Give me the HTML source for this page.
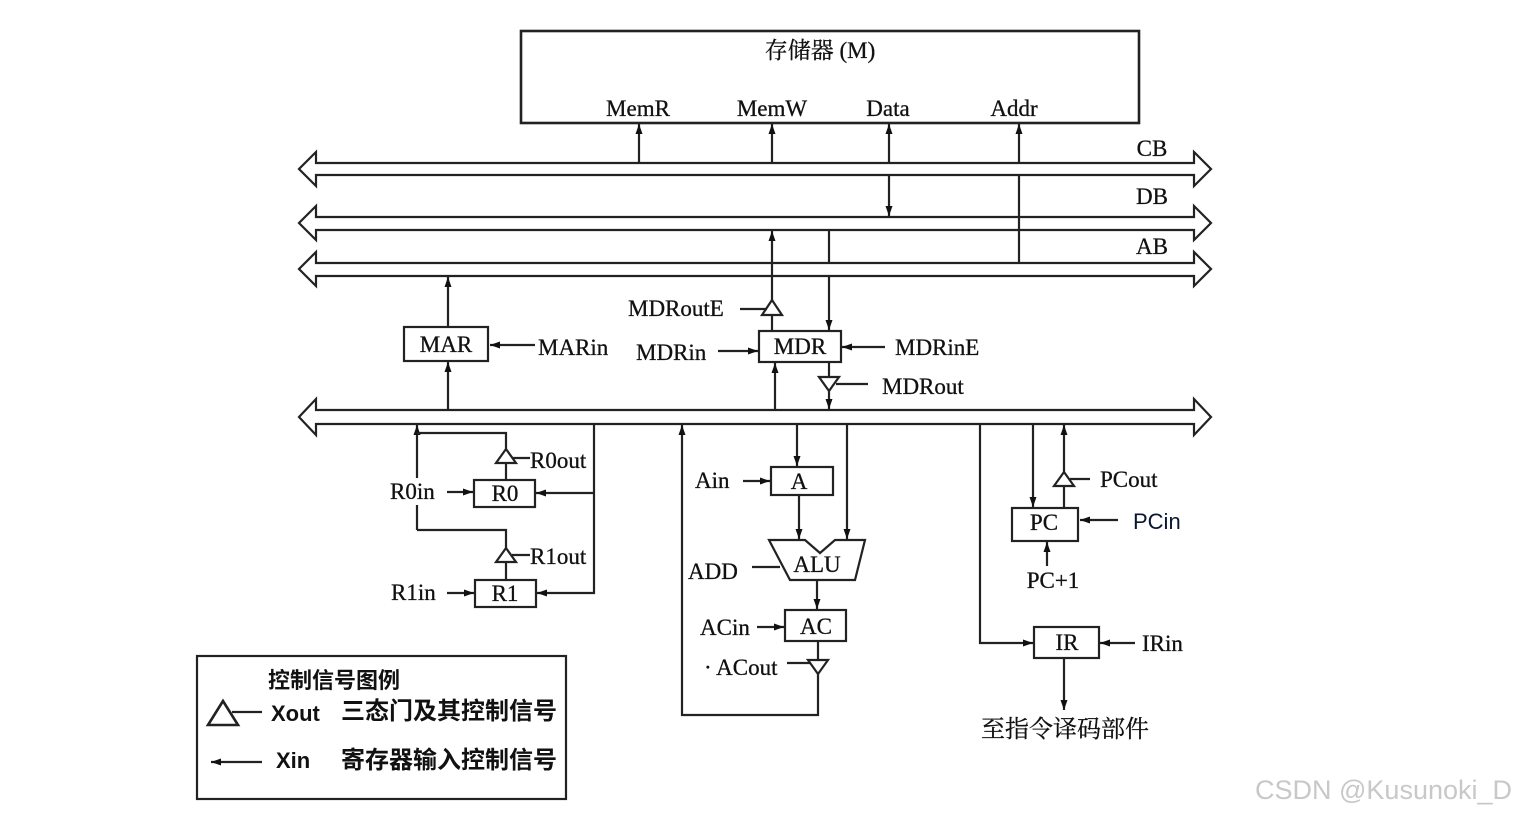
<!DOCTYPE html>
<html><head><meta charset="utf-8"><style>
html,body{margin:0;padding:0;background:#fff}
svg{display:block}
text{font-family:"Liberation Serif","Noto Serif CJK SC",serif;font-size:23px;fill:#111;stroke:#111;stroke-width:0.3}
.c{font-family:"Liberation Sans","Noto Sans CJK SC",sans-serif;font-size:22px;font-weight:bold;stroke:none}
</style></head><body>
<svg width="1524" height="816" viewBox="0 0 1524 816" xmlns="http://www.w3.org/2000/svg">
<defs>
<marker id="a" viewBox="0 0 10 10" refX="10" refY="5" markerWidth="10" markerHeight="10" markerUnits="userSpaceOnUse" orient="auto"><path d="M0,1.5 L10,5 L0,8.5 Z" fill="#111"/></marker>
</defs>
<g fill="none" stroke="#222" stroke-width="2.2">
<rect x="521" y="31" width="618" height="92" stroke-width="2.6"/>
<path d="M316,163 L1194,163 L1194,152 L1211,169 L1194,186 L1194,175 L316,175 L316,186 L299,169 L316,152 Z" fill="#fff"/>
<path d="M316,217 L1194,217 L1194,206 L1211,223 L1194,240 L1194,230 L316,230 L316,240 L299,223 L316,206 Z" fill="#fff"/>
<path d="M316,263 L1194,263 L1194,252 L1211,269 L1194,286 L1194,276 L316,276 L316,286 L299,269 L316,252 Z" fill="#fff"/>
<path d="M316,410 L1194,410 L1194,399 L1211,417 L1194,435 L1194,424 L316,424 L316,435 L299,417 L316,399 Z" fill="#fff"/>
<line x1="639" y1="163" x2="639" y2="124" marker-end="url(#a)"/>
<line x1="772" y1="163" x2="772" y2="124" marker-end="url(#a)"/>
<line x1="889" y1="163" x2="889" y2="124" marker-end="url(#a)"/>
<line x1="1019" y1="163" x2="1019" y2="124" marker-end="url(#a)"/>
<line x1="889" y1="175" x2="889" y2="216" marker-end="url(#a)"/>
<line x1="1019" y1="175" x2="1019" y2="263"/>
<rect x="404" y="327" width="84" height="34"/>
<line x1="448" y1="327" x2="448" y2="277" marker-end="url(#a)"/>
<line x1="448" y1="410" x2="448" y2="362" marker-end="url(#a)"/>
<line x1="535" y1="345" x2="490" y2="345" marker-end="url(#a)"/>
<rect x="759" y="331" width="82" height="31"/>
<line x1="772" y1="331" x2="772" y2="231" marker-end="url(#a)"/>
<path d="M772,300 L782,315 L762,315 Z" fill="#fff"/>
<line x1="740" y1="309" x2="767" y2="309"/>
<line x1="829" y1="276" x2="829" y2="330" marker-end="url(#a)"/>
<line x1="829" y1="230" x2="829" y2="263"/>
<line x1="775" y1="410" x2="775" y2="363" marker-end="url(#a)"/>
<line x1="829" y1="362" x2="829" y2="409" marker-end="url(#a)"/>
<path d="M819,377 L839,377 L829,391 Z" fill="#fff"/>
<line x1="836" y1="384" x2="868" y2="384"/>
<line x1="718" y1="351" x2="758" y2="351" marker-end="url(#a)"/>
<line x1="885" y1="347" x2="842" y2="347" marker-end="url(#a)"/>
<rect x="474" y="480" width="61" height="27"/>
<rect x="475" y="580" width="61" height="27"/>
<line x1="417" y1="478" x2="417" y2="425" marker-end="url(#a)"/>
<line x1="417" y1="505" x2="417" y2="530"/>
<polyline points="417,433 506,433 506,480"/>
<polyline points="417,530 506,530 506,580"/>
<path d="M506,449 L516,463 L496,463 Z" fill="#fff"/>
<path d="M506,548 L516,562 L496,562 Z" fill="#fff"/>
<line x1="512" y1="458" x2="530" y2="458"/>
<line x1="512" y1="555" x2="530" y2="555"/>
<polyline points="594,424 594,593 537,593" marker-end="url(#a)"/>
<line x1="594" y1="493" x2="536" y2="493" marker-end="url(#a)"/>
<line x1="447" y1="492" x2="473" y2="492" marker-end="url(#a)"/>
<line x1="447" y1="593" x2="474" y2="593" marker-end="url(#a)"/>
<rect x="771" y="467" width="62" height="28"/>
<rect x="785" y="610" width="61" height="31"/>
<path d="M769,540 L805,540 L820,553 L835,540 L865,540 L855,580 L790,580 Z" fill="#fff"/>
<line x1="797" y1="424" x2="797" y2="466" marker-end="url(#a)"/>
<line x1="799" y1="495" x2="799" y2="539" marker-end="url(#a)"/>
<line x1="847" y1="424" x2="847" y2="539" marker-end="url(#a)"/>
<line x1="817" y1="580" x2="817" y2="609" marker-end="url(#a)"/>
<line x1="743" y1="481" x2="770" y2="481" marker-end="url(#a)"/>
<line x1="757" y1="627" x2="784" y2="627" marker-end="url(#a)"/>
<line x1="752" y1="567" x2="780" y2="567"/>
<polyline points="818,641 818,715 682,715 682,425" marker-end="url(#a)"/>
<path d="M808,660 L828,660 L818,674 Z" fill="#fff"/>
<line x1="787" y1="663" x2="810" y2="663"/>
<rect x="1012" y="508" width="66" height="33"/>
<rect x="1034" y="627" width="65" height="31"/>
<line x1="1033" y1="424" x2="1033" y2="507" marker-end="url(#a)"/>
<line x1="1064" y1="508" x2="1064" y2="425" marker-end="url(#a)"/>
<path d="M1064,472 L1074,486 L1054,486 Z" fill="#fff"/>
<line x1="1070" y1="479" x2="1090" y2="479"/>
<line x1="1118" y1="520" x2="1080" y2="520" marker-end="url(#a)"/>
<line x1="1047" y1="566" x2="1047" y2="542" marker-end="url(#a)"/>
<polyline points="980,424 980,643 1033,643" marker-end="url(#a)"/>
<line x1="1135" y1="643" x2="1100" y2="643" marker-end="url(#a)"/>
<line x1="1064" y1="659" x2="1064" y2="710" marker-end="url(#a)"/>
<rect x="197" y="656" width="369" height="143"/>
<path d="M223,701 L238,725 L208,725 Z" fill="#fff" stroke-width="2.6"/>
<line x1="232" y1="712" x2="262" y2="712"/>
<line x1="262" y1="762" x2="211" y2="762" marker-end="url(#a)"/>
</g>
<text x="820" y="58" text-anchor="middle">存储器 (M)</text>
<text x="638" y="116" text-anchor="middle">MemR</text>
<text x="772" y="116" text-anchor="middle">MemW</text>
<text x="888" y="116" text-anchor="middle">Data</text>
<text x="1014" y="116" text-anchor="middle">Addr</text>
<text x="1152" y="156" text-anchor="middle">CB</text>
<text x="1152" y="204" text-anchor="middle">DB</text>
<text x="1152" y="254" text-anchor="middle">AB</text>
<text x="446" y="352" text-anchor="middle">MAR</text>
<text x="538" y="355">MARin</text>
<text x="800" y="354" text-anchor="middle">MDR</text>
<text x="628" y="316">MDRoutE</text>
<text x="636" y="360">MDRin</text>
<text x="895" y="355">MDRinE</text>
<text x="882" y="394">MDRout</text>
<text x="505" y="501" text-anchor="middle">R0</text>
<text x="505" y="601" text-anchor="middle">R1</text>
<text x="530" y="468">R0out</text>
<text x="530" y="564">R1out</text>
<text x="390" y="499">R0in</text>
<text x="391" y="600">R1in</text>
<text x="799" y="489" text-anchor="middle">A</text>
<text x="695" y="488">Ain</text>
<text x="817" y="572" text-anchor="middle">ALU</text>
<text x="688" y="579">ADD</text>
<text x="816" y="634" text-anchor="middle">AC</text>
<text x="700" y="635">ACin</text>
<text x="704" y="675">· ACout</text>
<text x="1044" y="530" text-anchor="middle">PC</text>
<text x="1100" y="487">PCout</text>
<text x="1133" y="529" style="font-family:'Liberation Sans',sans-serif;fill:#0a1530;stroke:none;font-size:22px">PCin</text>
<text x="1053" y="588" text-anchor="middle">PC+1</text>
<text x="1067" y="650" text-anchor="middle">IR</text>
<text x="1142" y="651">IRin</text>
<text x="1065" y="737" text-anchor="middle" style="font-size:24px">至指令译码部件</text>
<text class="c" x="268" y="688">控制信号图例</text>
<text class="c" x="271" y="721">Xout</text>
<text class="c" x="341" y="719" style="font-size:24px">三态门及其控制信号</text>
<text class="c" x="276" y="768">Xin</text>
<text class="c" x="341" y="768" style="font-size:24px">寄存器输入控制信号</text>
<text x="1255" y="799" style="font-family:'Liberation Sans',sans-serif;font-size:27px;fill:#c8c8c8;stroke:none">CSDN @Kusunoki_D</text>
</svg>
</body></html>
